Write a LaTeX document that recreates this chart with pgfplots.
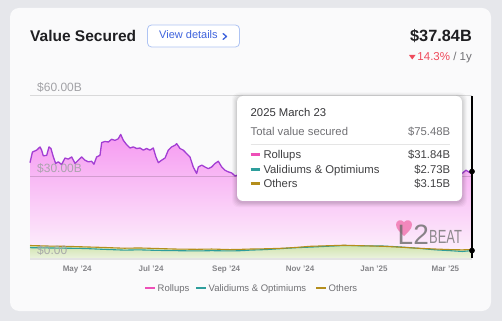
\documentclass[border=0pt]{standalone}
\usepackage{pgfplots}
\pgfplotsset{compat=1.18}
\usepackage{fontspec}
\setmainfont{Liberation Sans}
\definecolor{bgouter}{HTML}{E6E7EB}
\definecolor{card}{HTML}{FAFAFB}
\definecolor{purpl}{HTML}{A23ED3}
\definecolor{pinktop}{HTML}{F590F0}
\definecolor{pinkbot}{HTML}{FDF4FC}
\definecolor{rollc}{HTML}{EE4FB8}
\definecolor{tealc}{HTML}{2E9E9C}
\definecolor{olivec}{HTML}{B48E1C}
\definecolor{greentop}{HTML}{D0E3AC}
\definecolor{greenbot}{HTML}{EAF2DD}
\definecolor{bluec}{HTML}{3E63DD}
\definecolor{btnborder}{HTML}{AFC4F3}
\definecolor{redc}{HTML}{EF4B5C}
\definecolor{darktext}{HTML}{1F1F22}
\definecolor{graytext}{HTML}{707074}
\definecolor{lightgray}{HTML}{A2A2A6}
\definecolor{heartc}{HTML}{F27FB6}
\tikzset{xtl/.style={anchor=base, inner sep=0pt, text=graytext!85, font=\fontsize{8}{10}\selectfont\bfseries, yshift=-13.7pt}}
\begin{document}
\begin{tikzpicture}[x=1pt,y=1pt]
\useasboundingbox (0,0) rectangle (502,321);
\fill[bgouter] (0,0) rectangle (502,321);
\fill[card, rounded corners=9pt] (10,10) rectangle (491,313);
% header
\node[anchor=base west, inner sep=0pt, text=darktext, font=\fontsize{15.5}{18}\selectfont\bfseries] at (30,279.5) {Value Secured};
\draw[btnborder, rounded corners=4pt, line width=0.8pt, fill=white] (147.5,274) rectangle (239.5,296);
\node[anchor=base west, inner sep=0pt, text=bluec, font=\fontsize{11}{13}\selectfont] at (159,282) {View details};
\draw[bluec, line width=1.3pt, line cap=round, line join=round] (223,287.5) -- (226.5,284.5) -- (223,281.5);
\node[anchor=base east, inner sep=0pt, text=darktext, font=\fontsize{16.3}{19}\selectfont\bfseries] at (472,279.5) {\$37.84B};
\fill[redc] (409,266) -- (415.5,266) -- (412.25,261.5) -- cycle;
\node[anchor=base east, inner sep=0pt, font=\fontsize{11.5}{14}\selectfont] at (472,260) {\textcolor{redc}{14.3\%} \textcolor{graytext}{/ 1y}};
% chart
\begin{axis}[at={(30pt,63pt)}, anchor=south west, scale only axis,
  width=442pt, height=163pt, xmin=0, xmax=365, ymin=0, ymax=60,
  axis lines=none, clip=false,
  xtick=\empty, ytick=\empty]
\addplot[draw=none, top color=pinktop, bottom color=pinkbot] coordinates {
(0,35.1)(2,39.0)(5.5,39.7)(8.3,40.9)(9.6,39.7)(11,37.6)(13.8,37.8)(15.7,40.9)(17.3,40.3)(19.3,37.2)(21.2,34.8)(23.4,35.4)(26.1,34.4)(28.9,36.8)(31.6,36.4)(34.4,37.2)(37.2,34.8)(39.9,36.0)(42.7,37.2)(45.4,36.0)(48.2,35.4)(50.9,35.6)(52.8,34.5)(55,37.2)(57.8,37.8)(59.2,42.5)(61.9,42.9)(64.7,42.7)(67.4,43.7)(70.2,43.3)(72.9,43.9)(74.9,45.5)(77.1,43.3)(79.8,41.7)(82.6,40.5)(85.3,40.9)(88.1,40.3)(90.8,40.5)(93.6,39.7)(96.3,40.3)(99.1,39.7)(101.8,40.5)(104,37.2)(106,35.1)(108.7,36.0)(111.5,36.8)(114.2,39.7)(117,40.9)(119.7,41.5)(121.1,42.1)(123.9,40.3)(126.6,39.7)(129.4,38.4)(132.1,37.2)(134.8,33.5)(137.6,31.1)(139,33.5)(141.8,34.2)(144.5,33.5)(147.2,32.9)(150,33.5)(152.8,34.8)(155.5,35.6)(158.3,33.5)(161,32.3)(163.8,31.7)(166.6,31.3)(169.3,30.2)(172,30.6)(176,31.5)(182,32.4)(190,33.2)(200,32.1)(210,31.6)(220,31.2)(228,33.5)(236,38.5)(244,40.2)(252,42.5)(260,46.0)(268,48.1)(275,50.2)(282,46.3)(290,44.1)(298,45.2)(306,42.3)(314,40.6)(322,38.2)(330,35.4)(338,33.5)(346,31.2)(352,30.4)(357,31.2)(360,32.3)(363,31.5)(365,31.84)
} \closedcycle;
\addplot[draw=purpl, line width=1.3pt, line join=round] coordinates {
(0,35.1)(2,39.0)(5.5,39.7)(8.3,40.9)(9.6,39.7)(11,37.6)(13.8,37.8)(15.7,40.9)(17.3,40.3)(19.3,37.2)(21.2,34.8)(23.4,35.4)(26.1,34.4)(28.9,36.8)(31.6,36.4)(34.4,37.2)(37.2,34.8)(39.9,36.0)(42.7,37.2)(45.4,36.0)(48.2,35.4)(50.9,35.6)(52.8,34.5)(55,37.2)(57.8,37.8)(59.2,42.5)(61.9,42.9)(64.7,42.7)(67.4,43.7)(70.2,43.3)(72.9,43.9)(74.9,45.5)(77.1,43.3)(79.8,41.7)(82.6,40.5)(85.3,40.9)(88.1,40.3)(90.8,40.5)(93.6,39.7)(96.3,40.3)(99.1,39.7)(101.8,40.5)(104,37.2)(106,35.1)(108.7,36.0)(111.5,36.8)(114.2,39.7)(117,40.9)(119.7,41.5)(121.1,42.1)(123.9,40.3)(126.6,39.7)(129.4,38.4)(132.1,37.2)(134.8,33.5)(137.6,31.1)(139,33.5)(141.8,34.2)(144.5,33.5)(147.2,32.9)(150,33.5)(152.8,34.8)(155.5,35.6)(158.3,33.5)(161,32.3)(163.8,31.7)(166.6,31.3)(169.3,30.2)(172,30.6)(176,31.5)(182,32.4)(190,33.2)(200,32.1)(210,31.6)(220,31.2)(228,33.5)(236,38.5)(244,40.2)(252,42.5)(260,46.0)(268,48.1)(275,50.2)(282,46.3)(290,44.1)(298,45.2)(306,42.3)(314,40.6)(322,38.2)(330,35.4)(338,33.5)(346,31.2)(352,30.4)(357,31.2)(360,32.3)(363,31.5)(365,31.84)
};
% others fill and line
\addplot[draw=none, top color=greentop, bottom color=greenbot] coordinates {
(0,4.6)(15,4.4)(30,4.3)(45,4.1)(60,3.9)(78,3.6)(90,3.7)(105,3.5)(120,3.3)(138,3.2)(150,3.3)(165,3.1)(175,3.2)(182,3.3)(195,3.4)(209,3.6)(220,3.9)(231,4.3)(245,4.5)(259,4.7)(275,4.5)(292,4.3)(305,4.0)(320,3.6)(335,3.3)(347,3.1)(357,3.0)(365,3.15)
} \closedcycle;
\addplot[draw=tealc, line width=1.1pt] coordinates {
(0,3.8)(15,3.7)(30,3.6)(45,3.5)(60,3.2)(78,2.9)(90,3.0)(105,2.8)(120,2.7)(138,2.6)(150,2.7)(165,2.6)(175,2.7)(182,2.9)(195,3.1)(209,3.5)(220,3.8)(231,4.0)(245,4.3)(259,4.6)(275,4.5)(292,4.4)(305,4.1)(320,3.6)(335,3.0)(347,2.7)(357,2.4)(365,2.73)
};
\addplot[draw=olivec, line width=1.1pt] coordinates {
(0,4.6)(15,4.4)(30,4.3)(45,4.1)(60,3.9)(78,3.6)(90,3.7)(105,3.5)(120,3.3)(138,3.2)(150,3.3)(165,3.1)(175,3.2)(182,3.3)(195,3.4)(209,3.6)(220,3.9)(231,4.3)(245,4.5)(259,4.7)(275,4.5)(292,4.3)(305,4.0)(320,3.6)(335,3.3)(347,3.1)(357,3.0)(365,3.15)
};
% grid lines and axis
\draw[black, opacity=0.13, line width=0.8pt] (axis cs:0,60) -- (axis cs:365,60);
\draw[black, opacity=0.15, line width=0.8pt] (axis cs:0,30) -- (axis cs:365,30);
\draw[black!11, line width=2.5pt] (axis cs:0,-0.4) -- (axis cs:365,-0.4);
\node[anchor=base west, inner sep=0pt, text=lightgray, font=\fontsize{12}{14}\selectfont, xshift=7pt, yshift=3.8pt] at (axis cs:0,60) {\$60.00B};
\node[anchor=base west, inner sep=0pt, text=lightgray, opacity=0.9, font=\fontsize{12}{14}\selectfont, xshift=7pt, yshift=3.8pt] at (axis cs:0,30) {\$30.00B};
\node[anchor=base west, inner sep=0pt, text=lightgray, opacity=0.9, font=\fontsize{12}{14}\selectfont, xshift=7pt, yshift=3.8pt] at (axis cs:0,0) {\$0.00};
% x tick labels
\node[xtl] at (axis cs:39,0) {May '24};
\node[xtl] at (axis cs:100,0) {Jul '24};
\node[xtl] at (axis cs:162,0) {Sep '24};
\node[xtl] at (axis cs:223,0) {Nov '24};
\node[xtl] at (axis cs:284,0) {Jan '25};
\node[xtl] at (axis cs:343,0) {Mar '25};
% hover line and markers
\draw[black, line width=1.3pt] (axis cs:365,0) -- (axis cs:365,59.5);
\addplot[only marks, mark=*, mark size=2.6pt, mark options={fill=black, draw=black}] coordinates {(365,31.84)(365,2.73)};
\end{axis}
% watermark
\fill[heartc, opacity=0.9] (404,85) .. controls (400,89) and (396,92) .. (396,96.5) .. controls (396,100.5) and (401,102.5) .. (404,99) .. controls (407,102.5) and (412,100.5) .. (412,96.5) .. controls (412,92) and (408,89) .. (404,85) -- cycle;
\node[anchor=base west, inner sep=0pt, text=black!58, opacity=0.8, font=\fontsize{28}{30}\selectfont] at (397.5,76.5) {L2};
\node[anchor=base west, inner sep=0pt, text=black!55, opacity=0.8, font=\fontsize{19}{21}\selectfont, xscale=0.68] at (429,77.5) {BEAT};
% tooltip
\foreach \s/\o in {5/0.025,4/0.03,3/0.035,2/0.04,1/0.05}{
  \fill[black, opacity=\o, rounded corners=7pt] (237-\s,120-\s-1.5) rectangle (462+\s,225+\s-1.5);
}
\fill[white, rounded corners=6pt] (237,120) rectangle (462,225);
\node[anchor=base west, inner sep=0pt, text=darktext!90, font=\fontsize{11.3}{13}\selectfont] at (250.5,204.3) {2025 March 23};
\node[anchor=base west, inner sep=0pt, text=graytext, font=\fontsize{11.3}{13}\selectfont] at (250.5,185.3) {Total value secured};
\node[anchor=base east, inner sep=0pt, text=graytext, font=\fontsize{11.3}{13}\selectfont] at (450.3,185.3) {\$75.48B};
\draw[black!10, line width=0.8pt] (250.5,177) -- (450.3,177);
\draw[rollc, line width=2.6pt] (250.5,166.7) -- (260,166.7);
\draw[tealc, line width=2.6pt] (250.5,151.3) -- (260,151.3);
\draw[olivec, line width=2.6pt] (250.5,137.3) -- (260,137.3);
\node[anchor=base west, inner sep=0pt, text=darktext!85, font=\fontsize{11.3}{13}\selectfont] at (263.3,162.7) {Rollups};
\node[anchor=base west, inner sep=0pt, text=darktext!85, font=\fontsize{11.3}{13}\selectfont] at (263.3,147.7) {Validiums \& Optimiums};
\node[anchor=base west, inner sep=0pt, text=darktext!85, font=\fontsize{11.3}{13}\selectfont] at (263.3,133.7) {Others};
\node[anchor=base east, inner sep=0pt, text=darktext!85, font=\fontsize{11.3}{13}\selectfont] at (450.3,162.7) {\$31.84B};
\node[anchor=base east, inner sep=0pt, text=darktext!85, font=\fontsize{11.3}{13}\selectfont] at (450.3,147.7) {\$2.73B};
\node[anchor=base east, inner sep=0pt, text=darktext!85, font=\fontsize{11.3}{13}\selectfont] at (450.3,133.7) {\$3.15B};
% legend
\draw[rollc, line width=2.6pt] (145,33) -- (155,33);
\node[anchor=base west, inner sep=0pt, text=graytext, font=\fontsize{9.5}{11}\selectfont] at (157.5,29.5) {Rollups};
\draw[tealc, line width=2.6pt] (196,33) -- (206,33);
\node[anchor=base west, inner sep=0pt, text=graytext, font=\fontsize{9.5}{11}\selectfont] at (208.5,29.5) {Validiums \& Optimiums};
\draw[olivec, line width=2.6pt] (316,33) -- (326,33);
\node[anchor=base west, inner sep=0pt, text=graytext, font=\fontsize{9.5}{11}\selectfont] at (328.5,29.5) {Others};
\end{tikzpicture}
\end{document}
